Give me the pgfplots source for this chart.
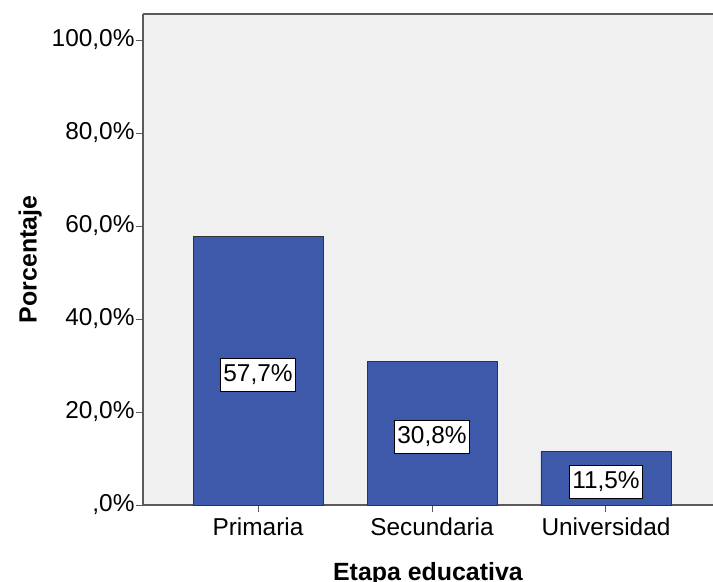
\documentclass[border=0pt]{standalone}
\usepackage{pgfplots}
\pgfplotsset{compat=1.18}
\usepackage{fontspec}
\setmainfont{Liberation Sans}
\definecolor{bgc}{RGB}{240,240,240}
\definecolor{barc}{RGB}{62,88,170}
\definecolor{axc}{RGB}{90,90,90}
\begin{document}
\begin{tikzpicture}
\begin{axis}[
  scale only axis,
  width=570bp, height=491bp,
  xmin=-0.661, xmax=2.615,
  ymin=0, ymax=105.6,
  separate axis lines,
  axis x line=box, axis y line=left,
  axis line style={draw=axc, line width=1.3bp, -},
  axis background/.style={fill=bgc},
  tick align=outside,
  xtick pos=bottom, ytick pos=left,
  major tick length=7bp,
  tick style={draw=axc, line width=1bp},
  xtick={0,1,2},
  xticklabels={Primaria,Secundaria,Universidad},
  ytick={0,20,40,60,80,100},
  yticklabels={{,0\%},{20,0\%},{40,0\%},{60,0\%},{80,0\%},{100,0\%}},
  tick label style={font=\fontsize{24.5}{28}\selectfont, text=black},
  xticklabel style={yshift=-2bp},
  yticklabel style={xshift=2bp},
  xlabel={\textbf{Etapa educativa}},
  ylabel={\textbf{Porcentaje}},
  label style={font=\fontsize{25}{29}\selectfont},
  xlabel style={at={(ticklabel cs:0.5)}, anchor=north, yshift=-20bp},
  ylabel style={at={(ticklabel cs:0.5)}, anchor=south, yshift=3bp},
  clip=false,
  /pgf/number format/assume math mode=true,
]
\coordinate (O) at (rel axis cs:0,0);
\addplot[ybar, bar width=130bp, fill=barc, draw=black!80, line width=0.8bp] coordinates {(0,57.7) (1,30.8) (2,11.5)};
\addplot[draw=none, mark=none,
  nodes near coords={\pgfmathprintnumber[fixed,fixed zerofill,precision=1,use comma]{\pgfplotspointmeta}\%},
  point meta=explicit,
  every node near coord/.append style={anchor=center, fill=white, draw=black, line width=0.8bp, inner xsep=3bp, inner ysep=6.5bp, font=\fontsize{24.5}{28}\selectfont}]
  coordinates {(0,28.0) [57.7] (1,14.7) [30.8] (2,5.0) [11.5]};
\end{axis}
\pgfresetboundingbox
\path ([shift={(-143bp,-77bp)}]O) rectangle ([shift={(570bp,505bp)}]O);
\end{tikzpicture}
\end{document}
